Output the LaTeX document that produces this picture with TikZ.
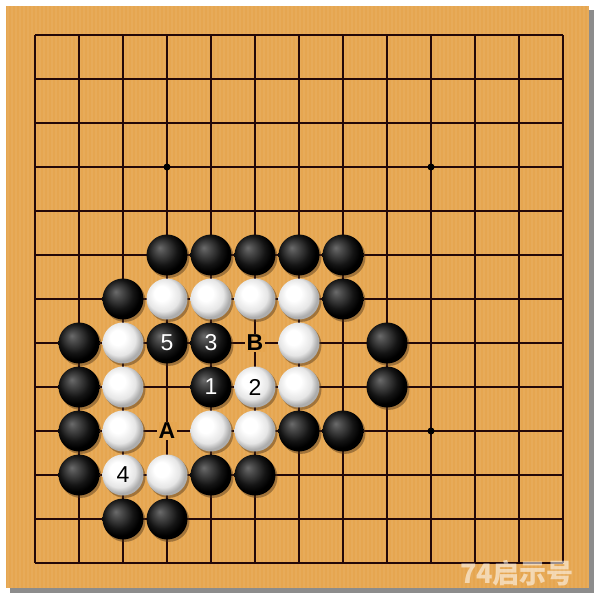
\documentclass[tikz,border=0pt]{standalone}
\usepackage{fontspec}
\setmainfont{Liberation Sans}
\newfontfamily\cjk{Noto Sans CJK SC}
\definecolor{board}{RGB}{230,166,80}
\definecolor{gridc}{RGB}{35,8,8}
\pgfdeclareradialshading{blackstone}{\pgfpoint{-9bp}{9bp}}{color(0bp)=(black!58); color(6bp)=(black!70); color(18bp)=(black!92); color(25bp)=(black); color(50bp)=(black)}
\pgfdeclareradialshading{whitestone}{\pgfpoint{-8bp}{8bp}}{color(0bp)=(white); color(9bp)=(white); color(20bp)=(black!10); color(26bp)=(black!32); color(50bp)=(black!32)}
\tikzset{
  bst/.style={circle, minimum size=41pt, inner sep=0pt, shading=blackstone, text=white, font=\fontsize{23}{23}\selectfont},
  wst/.style={circle, minimum size=41pt, inner sep=0pt, shading=whitestone, text=black, font=\fontsize{23}{23}\selectfont},
  lbl/.style={fill=board, inner sep=1.5pt, font=\bfseries\fontsize{23}{23}\selectfont},
  starpt/.style={circle, fill=black, minimum size=7pt, inner sep=0pt}
}
\newcommand{\shadowat}[2]{\fill[black!60!brown, opacity=0.45] (#1+1.8,#2+2.2) circle (20.7);}
\begin{document}
\begin{tikzpicture}[x=1pt,y=-1pt]
\useasboundingbox (0,0) rectangle (600,600);
\fill[white] (0,0) rectangle (600,600);
% board shadow and board
\fill[black!45] (10,10) rectangle (594,593);
\fill[board] (6,6) rectangle (589,588);
% wood stripes
\foreach \i in {0,...,145} {
  \draw[white, opacity=0.06, line width=1.2pt] (8+4*\i,6) -- (8+4*\i,588);
}
% grid
\foreach \k in {0,...,12} {
  \draw[gridc, line width=1.3pt] (35+44*\k,35) -- (35+44*\k,563);
  \draw[gridc, line width=1.3pt] (35,35+44*\k) -- (563,35+44*\k);
}
\node[starpt] (s1) at (167,167) {};
\node[starpt] (s2) at (431,167) {};
\node[starpt] (s3) at (431,431) {};
\node[starpt] (s4) at (299,299) {};
% shadows
\foreach \x/\y in {167/255,211/255,255/255,299/255,343/255,
  123/299,167/299,211/299,255/299,299/299,343/299,
  79/343,123/343,167/343,211/343,299/343,387/343,
  79/387,123/387,211/387,255/387,299/387,387/387,
  79/431,123/431,211/431,255/431,299/431,343/431,
  79/475,123/475,167/475,211/475,255/475,
  123/519,167/519} {\shadowat{\x}{\y}}
% black stones
\node[bst] (b1) at (167,255) {};
\node[bst] (b2) at (211,255) {};
\node[bst] (b3) at (255,255) {};
\node[bst] (b4) at (299,255) {};
\node[bst] (b5) at (343,255) {};
\node[bst] (b6) at (123,299) {};
\node[bst] (b7) at (343,299) {};
\node[bst] (b8) at (79,343) {};
\node[bst] (m5) at (167,343) {5};
\node[bst] (m3) at (211,343) {3};
\node[bst] (b9) at (387,343) {};
\node[bst] (b10) at (79,387) {};
\node[bst] (m1) at (211,387) {1};
\node[bst] (b11) at (387,387) {};
\node[bst] (b12) at (79,431) {};
\node[bst] (b13) at (299,431) {};
\node[bst] (b14) at (343,431) {};
\node[bst] (b15) at (79,475) {};
\node[bst] (b16) at (211,475) {};
\node[bst] (b17) at (255,475) {};
\node[bst] (b18) at (123,519) {};
\node[bst] (b19) at (167,519) {};
% white stones
\node[wst] (w1) at (167,299) {};
\node[wst] (w2) at (211,299) {};
\node[wst] (w3) at (255,299) {};
\node[wst] (w4) at (299,299) {};
\node[wst] (w5) at (123,343) {};
\node[wst] (w6) at (299,343) {};
\node[wst] (w7) at (123,387) {};
\node[wst] (m2) at (255,387) {2};
\node[wst] (w8) at (299,387) {};
\node[wst] (w9) at (123,431) {};
\node[wst] (w10) at (211,431) {};
\node[wst] (w11) at (255,431) {};
\node[wst] (m4) at (123,475) {4};
\node[wst] (w12) at (167,475) {};
% labels
\node[lbl] (A) at (167,431) {A};
\node[lbl] (B) at (255,343) {B};
% watermark
\node[text=white, opacity=0.55, font=\cjk\bfseries\fontsize{27}{27}\selectfont] (wm) at (517,573) {74启示号};
\end{tikzpicture}
\end{document}
